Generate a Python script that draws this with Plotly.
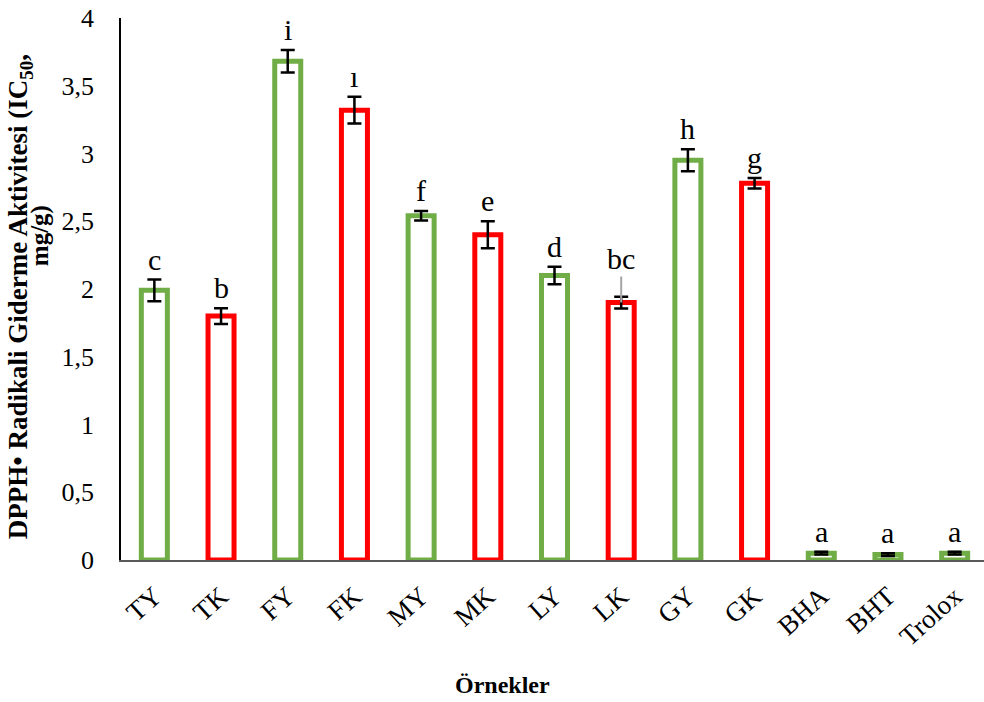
import plotly.graph_objects as go

categories = ["TY", "TK", "FY", "FK", "MY", "MK", "LY", "LK", "GY", "GK", "BHA", "BHT", "Trolox"]
values = [1.99, 1.80, 3.68, 3.32, 2.54, 2.40, 2.10, 1.90, 2.95, 2.78, 0.05, 0.04, 0.05]
errors = [0.08, 0.058, 0.083, 0.098, 0.035, 0.10, 0.065, 0.043, 0.081, 0.039, 0.01, 0.01, 0.01]
letters = ["c", "b", "i", "ı", "f", "e", "d", "bc", "h", "g", "a", "a", "a"]
groups = ["Y", "K", "Y", "K", "Y", "K", "Y", "K", "Y", "K", "Y", "Y", "Y"]
y_ticks = [0, 0.5, 1, 1.5, 2, 2.5, 3, 3.5, 4]

GREEN = "#70AD47"
RED = "#FF0000"
FONT = "Liberation Serif"
line_colors = [GREEN if g == "Y" else RED for g in groups]

fig = go.Figure()
fig.add_trace(go.Bar(
    x=categories, y=values, width=0.39,
    marker=dict(color="white", line=dict(color=line_colors, width=5)),
    error_y=dict(type="data", array=errors, visible=True, color="black", thickness=2.5, width=7),
    showlegend=False,
))

for cat, v, e, lab in zip(categories, values, errors, letters):
    if lab == "bc":
        fig.add_annotation(x=cat, y=v, text=lab, showarrow=True, ax=0, ay=-44,
                           arrowhead=0, arrowwidth=2, arrowcolor="#A6A6A6",
                           font=dict(family=FONT, size=30, color="black"))
    else:
        fig.add_annotation(x=cat, y=v + e, text=lab, showarrow=False, yanchor="bottom",
                           yshift=2, font=dict(family=FONT, size=30, color="black"))

# y-axis title (two lines, as in reference)
fig.add_annotation(xref="paper", yref="paper", x=-0.1170, y=0.485, xanchor="center", yanchor="middle",
                   text="<b>DPPH• Radikali Giderme Aktivitesi (IC<sub>50</sub>,</b>", textangle=-90,
                   showarrow=False, font=dict(family=FONT, size=27, color="black"))
fig.add_annotation(xref="paper", yref="paper", x=-0.0935, y=0.598, xanchor="center", yanchor="middle",
                   text="<b>mg/g)</b>", textangle=-90,
                   showarrow=False, font=dict(family=FONT, size=25, color="black"))

# x-axis title
fig.add_annotation(xref="paper", yref="paper", x=0.4415, y=-0.2306, xanchor="center", yanchor="middle",
                   text="<b>Örnekler</b>", showarrow=False,
                   font=dict(family=FONT, size=24, color="black"))

fig.update_layout(
    width=984, height=702,
    margin=dict(l=121, r=0, t=18, b=142),
    paper_bgcolor="white", plot_bgcolor="white",
    separators=", ",
    font=dict(family=FONT, color="black"),
    xaxis=dict(
        range=[-0.5, 12.44], showgrid=False, ticks="", tickangle=-42,
        tickfont=dict(family=FONT, size=27, color="black"),
        showline=True, linecolor="#595959", linewidth=1.5,
        ticklabelstandoff=8, automargin=False,
    ),
    yaxis=dict(
        range=[0, 4], tickvals=y_ticks,
        showgrid=False, zeroline=False, ticks="",
        tickfont=dict(family=FONT, size=26, color="black"),
        showline=True, linecolor="black", linewidth=1.5,
        ticklabelstandoff=20, automargin=False,
    ),
)

fig.write_html("out.html", config={"displayModeBar": False},
               post_script="document.body.style.margin='0px';document.body.style.overflow='hidden';")
